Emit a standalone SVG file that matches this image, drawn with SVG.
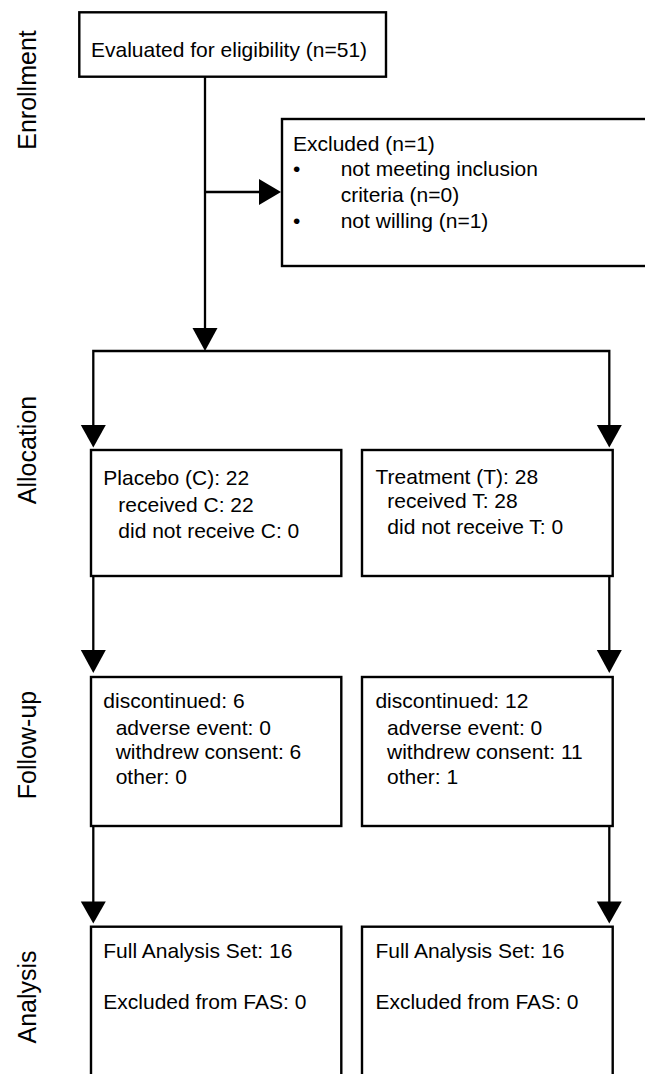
<svg xmlns="http://www.w3.org/2000/svg" width="645" height="1074" viewBox="0 0 645 1074">
<defs>
<style>
.box{fill:#fff;stroke:#000;stroke-width:2.4}
.t{font-family:"Liberation Sans",Arial,sans-serif;font-size:21px;fill:#000}
.side{font-family:"Liberation Sans",Arial,sans-serif;font-size:25px;fill:#000;text-anchor:middle}
.ln{fill:none;stroke:#000;stroke-width:2.3}
.ah{fill:#000;stroke:none}
</style>
</defs>
<rect width="645" height="1074" fill="#fff"/>
<g id="side-labels">
<text class="side" transform="translate(36,90) rotate(-90)">Enrollment</text>
<text class="side" transform="translate(36,450) rotate(-90)">Allocation</text>
<text class="side" transform="translate(36,745) rotate(-90)">Follow-up</text>
<text class="side" transform="translate(36,997) rotate(-90)">Analysis</text>
</g>
<g id="connectors">
<path class="ln" d="M205,77 V330"/>
<path class="ah" d="M192.5,328 L217.5,328 L205,351 Z"/>
<path class="ln" d="M205,192 H261"/>
<path class="ah" d="M259,179 L259,205 L281,192 Z"/>
<path class="ln" d="M93.3,427 V351 H609.3 V427"/>
<path class="ah" d="M80.8,425 L105.8,425 L93.3,447.5 Z"/>
<path class="ah" d="M596.8,425 L621.8,425 L609.3,447.5 Z"/>
<path class="ln" d="M93.3,576 V652"/>
<path class="ah" d="M80.8,650 L105.8,650 L93.3,673 Z"/>
<path class="ln" d="M609.3,576 V652"/>
<path class="ah" d="M596.8,650 L621.8,650 L609.3,673 Z"/>
<path class="ln" d="M93.3,826 V903"/>
<path class="ah" d="M80.8,901.5 L105.8,901.5 L93.3,923.5 Z"/>
<path class="ln" d="M609.3,826 V903"/>
<path class="ah" d="M596.8,901.5 L621.8,901.5 L609.3,923.5 Z"/>
</g>
<g id="evaluated">
<rect class="box" x="79.3" y="12.3" width="306.7" height="64.4"/>
<text class="t" x="91" y="56.5">Evaluated for eligibility (n=51)</text>
</g>
<g id="excluded">
<rect class="box" x="282" y="119" width="380" height="147"/>
<text class="t" x="293" y="150.7">Excluded (n=1)</text>
<text class="t" x="293" y="176">•</text>
<text class="t" x="340.7" y="176">not meeting inclusion</text>
<text class="t" x="340.7" y="201.7">criteria (n=0)</text>
<text class="t" x="293" y="228">•</text>
<text class="t" x="340.7" y="228">not willing (n=1)</text>
</g>
<g id="alloc-placebo">
<rect class="box" x="91" y="450" width="250.3" height="126"/>
<text class="t" x="103.3" y="485">Placebo (C): 22</text>
<text class="t" x="118.3" y="512">received C: 22</text>
<text class="t" x="118.3" y="538">did not receive C: 0</text>
</g>
<g id="alloc-treatment">
<rect class="box" x="362" y="450" width="250.7" height="126"/>
<text class="t" x="375.5" y="484">Treatment (T): 28</text>
<text class="t" x="387.3" y="508">received T: 28</text>
<text class="t" x="387.3" y="534">did not receive T: 0</text>
</g>
<g id="follow-placebo">
<rect class="box" x="91" y="677" width="250.3" height="149"/>
<text class="t" x="103.3" y="708.3">discontinued: 6</text>
<text class="t" x="115.7" y="735">adverse event: 0</text>
<text class="t" x="115.7" y="759">withdrew consent: 6</text>
<text class="t" x="115.7" y="784">other: 0</text>
</g>
<g id="follow-treatment">
<rect class="box" x="362" y="677" width="250.7" height="149"/>
<text class="t" x="375.4" y="708.3">discontinued: 12</text>
<text class="t" x="387" y="735">adverse event: 0</text>
<text class="t" x="387" y="759">withdrew consent: 11</text>
<text class="t" x="387" y="784">other: 1</text>
</g>
<g id="analysis-placebo">
<rect class="box" x="91" y="926.7" width="250.3" height="200"/>
<text class="t" x="103.3" y="958.3">Full Analysis Set: 16</text>
<text class="t" x="103.3" y="1009.3">Excluded from FAS: 0</text>
</g>
<g id="analysis-treatment">
<rect class="box" x="362" y="926.7" width="250.7" height="200"/>
<text class="t" x="375.4" y="958.3">Full Analysis Set: 16</text>
<text class="t" x="375.4" y="1009.3">Excluded from FAS: 0</text>
</g>
</svg>
